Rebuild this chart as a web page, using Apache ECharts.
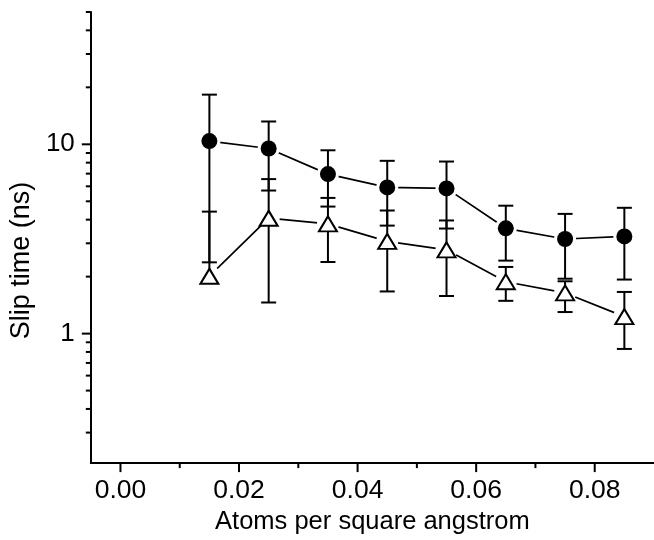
<!DOCTYPE html>
<html>
<head>
<meta charset="utf-8">
<script src="https://cdn.jsdelivr.net/npm/echarts@6/dist/echarts.min.js"></script>
<style>html,body{margin:0;padding:0;background:#fff;}#c{width:654px;height:540px;}</style>
</head>
<body>
<div id="c"></div>
<script>
// ---- data ----
const xValues = [0.015, 0.025, 0.035, 0.045, 0.055, 0.065, 0.075, 0.085];
const circleY = [10.4, 9.5, 6.96, 5.92, 5.85, 3.60, 3.16, 3.26];
const circleHigh = [18.3, 13.2, 9.3, 8.18, 8.11, 4.74, 4.29, 4.62];
const circleLow = [2.38, 5.7, 4.69, 3.72, 3.59, 2.43, 1.95, 1.93];
const triY = [2.01, 4.07, 3.80, 3.07, 2.77, 1.88, 1.64, 1.23];
const triHigh = [4.41, 6.55, 5.21, 4.47, 3.96, 2.25, 1.89, 1.66];
const triLow = [null, 1.46, 2.39, 1.67, 1.58, 1.49, 1.30, 0.83];
const xTickLabels = [0, 0.02, 0.04, 0.06, 0.08];
const xMinorTicks = [0.01, 0.03, 0.05, 0.07];
const yMajorTicks = [1, 10];
const yMinorTicks = [0.3, 0.4, 0.5, 0.6, 0.7, 0.8, 0.9, 2, 3, 4, 5, 6, 7, 8, 9, 20, 30, 40, 50];
const xTitle = 'Atoms per square angstrom';
const yTitle = 'Slip time (ns)';

// ---- chart ----
const X_MIN = -0.005, X_MAX = 0.09, Y_MIN = 0.207, Y_MAX = 50;
const FONT = '"Liberation Sans", Arial, sans-serif';
const chart = echarts.init(document.getElementById('c'), null, {renderer: 'canvas'});

function pairs(xs, ys) { return xs.map((x, i) => [x, ys[i]]); }

function tickSeries(data, dir, len) {
  return {
    type: 'custom', coordinateSystem: 'cartesian2d', clip: false, silent: true, z: 5,
    data: data,
    renderItem: function (params, api) {
      const p = api.coord([api.value(0), api.value(1)]);
      const shape = dir === 'y'
        ? {x1: p[0] - len, y1: p[1], x2: p[0], y2: p[1]}
        : {x1: p[0], y1: p[1], x2: p[0], y2: p[1] + len};
      return {type: 'line', shape: shape, style: {stroke: '#000', lineWidth: 2}};
    }
  };
}

function errorSeries(ys, lows, highs) {
  const data = xValues.map((x, i) => [x, ys[i], lows[i] == null ? NaN : lows[i], highs[i]]);
  return {
    type: 'custom', coordinateSystem: 'cartesian2d', clip: false, silent: true, z: 3,
    data: data,
    renderItem: function (params, api) {
      const x = api.value(0), y = api.value(1), lo = api.value(2), hi = api.value(3);
      const pHi = api.coord([x, hi]);
      const hasLo = !isNaN(lo);
      const pLo = hasLo ? api.coord([x, lo]) : api.coord([x, y]);
      const cap = 7.5;
      const children = [
        {type: 'line', shape: {x1: pHi[0], y1: pHi[1], x2: pLo[0], y2: pLo[1]}, style: {stroke: '#000', lineWidth: 2}},
        {type: 'line', shape: {x1: pHi[0] - cap, y1: pHi[1], x2: pHi[0] + cap, y2: pHi[1]}, style: {stroke: '#000', lineWidth: 2}}
      ];
      if (hasLo) {
        children.push({type: 'line', shape: {x1: pLo[0] - cap, y1: pLo[1], x2: pLo[0] + cap, y2: pLo[1]}, style: {stroke: '#000', lineWidth: 2}});
      }
      return {type: 'group', children: children};
    }
  };
}

const option = {
  animation: false,
  backgroundColor: '#fff',
  grid: {left: 90, right: -2, top: 12, bottom: 74, containLabel: false},
  xAxis: {
    type: 'value', min: X_MIN, max: X_MAX,
    name: xTitle, nameLocation: 'middle', nameGap: 42,
    nameTextStyle: {fontSize: 25.5, color: '#000', fontFamily: FONT},
    axisLine: {show: true, onZero: false, lineStyle: {color: '#000', width: 2}},
    axisTick: {show: false},
    splitLine: {show: false},
    axisLabel: {
      customValues: xTickLabels, margin: 14, fontSize: 26.5, color: '#000', fontFamily: FONT,
      formatter: v => v.toFixed(2)
    }
  },
  yAxis: {
    type: 'log', logBase: 10, min: Y_MIN, max: Y_MAX,
    name: yTitle, nameLocation: 'middle', nameGap: 54,
    nameTextStyle: {fontSize: 27, color: '#000', fontFamily: FONT, padding: [0, 46, 0, 0]},
    axisLine: {show: true, onZero: false, lineStyle: {color: '#000', width: 2}},
    axisTick: {show: false},
    splitLine: {show: false},
    axisLabel: {margin: 16, fontSize: 26, color: '#000', fontFamily: FONT, showMinLabel: false, showMaxLabel: false,
      formatter: v => String(Math.round(v * 1000) / 1000)}
  },
  series: [
    tickSeries(yMajorTicks.map(v => [X_MIN, v]), 'y', 9),
    tickSeries(yMinorTicks.map(v => [X_MIN, v]), 'y', 5),
    tickSeries(xTickLabels.map(v => [v, Y_MIN]), 'x', 9),
    tickSeries(xMinorTicks.map(v => [v, Y_MIN]), 'x', 5),
    {type: 'line', data: pairs(xValues, circleY), showSymbol: false, symbol: 'none', z: 1,
      lineStyle: {color: '#000', width: 1.7}, silent: true},
    {type: 'line', data: pairs(xValues, triY), showSymbol: false, symbol: 'none', z: 1,
      lineStyle: {color: '#000', width: 1.7}, silent: true},
    {type: 'scatter', data: pairs(xValues, circleY), symbol: 'circle', symbolSize: 22, z: 2,
      itemStyle: {color: '#fff', opacity: 1}, silent: true},
    {type: 'scatter', data: pairs(xValues, triY), symbol: 'circle', symbolSize: 22, z: 2,
      itemStyle: {color: '#fff', opacity: 1}, silent: true},
    errorSeries(circleY, circleLow, circleHigh),
    errorSeries(triY, triLow, triHigh),
    {type: 'scatter', data: pairs(xValues, circleY), symbol: 'circle', symbolSize: 16, z: 4,
      itemStyle: {color: '#000', opacity: 1}, silent: true},
    {type: 'scatter', data: pairs(xValues, triY), symbol: 'triangle', symbolSize: [18, 15], z: 4,
      itemStyle: {color: '#fff', borderColor: '#000', borderWidth: 2, opacity: 1}, silent: true}
  ]
};
chart.setOption(option);
</script>
</body>
</html>
